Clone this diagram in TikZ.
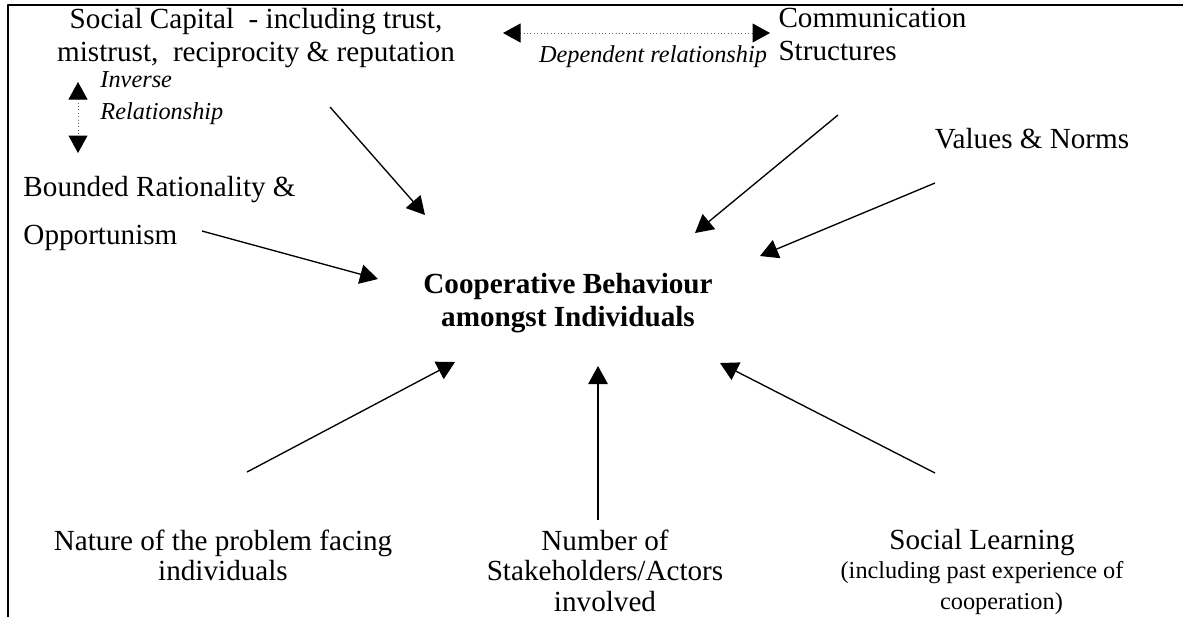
\documentclass[tikz,border=0pt]{standalone}
\usepackage{fontspec}
\setmainfont{Liberation Serif}
\usetikzlibrary{arrows.meta}

\begin{document}
\begin{tikzpicture}[x=0.4115pt, y=-0.4115pt, line join=round,
    lbl/.style={inner sep=0pt, font=\fontsize{12}{13.6}\selectfont},
    note/.style={inner sep=0pt, font=\fontsize{10}{13}\selectfont\itshape},
    arr/.style={line width=0.55pt, -{Triangle[length=7.4pt, width=8pt]}},
    rel/.style={densely dotted, line width=0.4pt, black!60,
        {Triangle[length=7.2pt, width=7.8pt, color=black]}-{Triangle[length=7.2pt, width=7.8pt, color=black]}}]
    \useasboundingbox (0,0) rectangle (1183,617);
    \draw[line width=0.45pt] (8,617) -- (8,5) -- (1183,5);

    \node[lbl, align=center, anchor=north] (soc) at (256,8) {Social Capital\ \ - including trust,\\mistrust,\ \ reciprocity \& reputation};
    \node[lbl, align=left, anchor=north west] (comm) at (778,8) {Communication\\Structures};
    \node[note, anchor=north] (dep) at (653,45) {Dependent relationship};
    \node[note, align=left, anchor=north west] (inv) at (100,71) {Inverse\\Relationship};
    \node[lbl, anchor=north] (val) at (1032,128) {Values \& Norms};
    \node[lbl, align=left, anchor=north west, font=\fontsize{12}{19.75}\selectfont] (bnd) at (23,176) {Bounded Rationality \&\\Opportunism};
    \node[lbl, align=center, anchor=north, font=\fontsize{12}{13.6}\selectfont\bfseries] (coop) at (568,273) {Cooperative Behaviour\\amongst Individuals};
    \node[lbl, align=center, anchor=north, font=\fontsize{12}{12.6}\selectfont] (nat) at (223,529) {Nature of the problem facing\\individuals};
    \node[lbl, align=center, anchor=north, font=\fontsize{12}{12.6}\selectfont] (num) at (605,529) {Number of\\Stakeholders/Actors\\involved};
    \node[lbl, anchor=north] (sl) at (982,529) {Social Learning};
    \node[lbl, align=center, anchor=north, font=\fontsize{10}{12.75}\selectfont] (slx) at (982,561) {(including past experience of\\\hspace*{16pt}cooperation)};

    % arrow ends
    \coordinate (a1) at (330,107); \coordinate (b1) at (425,215);
    \coordinate (a2) at (838,115); \coordinate (b2) at (695,233);
    \coordinate (a3) at (935,183); \coordinate (b3) at (760,256);
    \coordinate (a4) at (202,231); \coordinate (b4) at (378,279);
    \coordinate (a5) at (247,472); \coordinate (b5) at (455,362);
    \coordinate (a6) at (598,520); \coordinate (b6) at (598,366);
    \coordinate (a7) at (935,473); \coordinate (b7) at (720,363);
    \foreach \i in {1,...,7}
        \draw[arr] (a\i) -- (b\i);

    % relationships
    \coordinate (d1) at (503,33); \coordinate (d2) at (770,33);
    \coordinate (i1) at (78,82); \coordinate (i2) at (78,153);
    \draw[rel] (d1) -- (d2);
    \draw[rel] (i1) -- (i2);
\end{tikzpicture}
\end{document}
